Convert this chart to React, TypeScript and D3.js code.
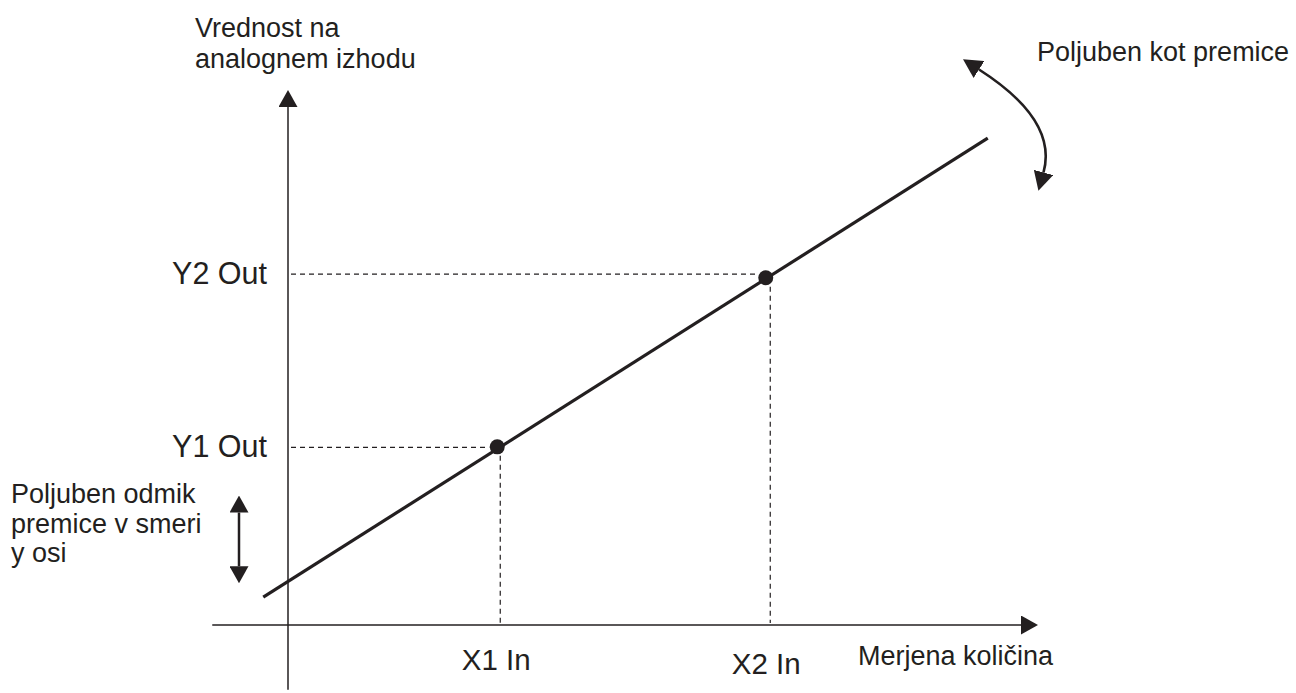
import React, { useEffect, useRef } from 'react';
import * as d3 from 'd3';

// axis extents (data units, origin at the axes crossing)
const xExtent = [-10.1, 100];
const yExtent = [-12.1, 100];

// transfer line, end points
const lineData = [
  { x: -3.3, y: 5.2 },
  { x: 93.3, y: 91.0 },
];

// the two calibration points
const points = [
  { x: 27.9, y: 33.3 },
  { x: 63.7, y: 64.9 },
];

// dashed guides: input value, output value
const inputs = [28.3, 64.3];
const outputs = [33.2, 65.6];
const inputLabels = ['X1 In', 'X2 In'];
const outputLabels = ['Y1 Out', 'Y2 Out'];

// offset arrow (y values)
const offsetArrow = [24.2, 7.8];

const INK = '#231f20';
const FONT = '"Liberation Sans", Arial, Helvetica, sans-serif';

export default function App() {
  const svgRef = useRef<SVGSVGElement>(null);

  useEffect(() => {
    if (!svgRef.current) return;
    d3.select(svgRef.current).selectAll('*').remove();

    const width = 1296;
    const height = 693;

    const svg = d3.select(svgRef.current)
      .attr('width', width)
      .attr('height', height);

    const x = d3.scaleLinear().domain([0, 100]).range([288, 1038]);
    const y = d3.scaleLinear().domain([0, 100]).range([625, 90]);

    // arrow head
    const defs = svg.append('defs');
    defs.append('marker')
      .attr('id', 'head')
      .attr('viewBox', '0 0 17 19')
      .attr('refX', 0)
      .attr('refY', 9.5)
      .attr('markerWidth', 17)
      .attr('markerHeight', 19)
      .attr('markerUnits', 'userSpaceOnUse')
      .attr('orient', 'auto-start-reverse')
      .append('path')
      .attr('d', 'M0,0 L17,9.5 L0,19 Z')
      .attr('fill', INK);

    defs.append('marker')
      .attr('id', 'head-big')
      .attr('viewBox', '0 0 19 20')
      .attr('refX', 0)
      .attr('refY', 10)
      .attr('markerWidth', 19)
      .attr('markerHeight', 20)
      .attr('markerUnits', 'userSpaceOnUse')
      .attr('orient', 'auto-start-reverse')
      .append('path')
      .attr('d', 'M0,0 L19,10 L0,20 Z')
      .attr('fill', INK);

    // axes
    svg.append('line')
      .attr('x1', x(0)).attr('x2', x(0))
      .attr('y1', y(yExtent[0])).attr('y2', y(yExtent[1]) + 17)
      .attr('stroke', INK).attr('stroke-width', 1.5)
      .attr('marker-end', 'url(#head)');

    svg.append('line')
      .attr('x1', x(xExtent[0])).attr('x2', x(xExtent[1]) - 17)
      .attr('y1', y(0)).attr('y2', y(0))
      .attr('stroke', INK).attr('stroke-width', 1.6)
      .attr('marker-end', 'url(#head)');

    // dashed guides
    const dash = svg.append('g')
      .attr('stroke', INK)
      .attr('stroke-width', 1.2)
      .attr('stroke-dasharray', '5,4')
      .attr('fill', 'none');

    outputs.forEach((v, i) => {
      dash.append('line')
        .attr('x1', x(0) + 3).attr('x2', x(points[i].x) - 8)
        .attr('y1', y(v)).attr('y2', y(v));
    });
    inputs.forEach((v, i) => {
      dash.append('line')
        .attr('x1', x(v)).attr('x2', x(v))
        .attr('y1', y(points[i].y) + 9).attr('y2', y(0) - 2);
    });

    // transfer line
    const line = d3.line<{ x: number; y: number }>()
      .x(d => x(d.x))
      .y(d => y(d.y));

    svg.append('path')
      .datum(lineData)
      .attr('d', line)
      .attr('fill', 'none')
      .attr('stroke', INK)
      .attr('stroke-width', 3.2);

    svg.selectAll('circle.pt')
      .data(points)
      .enter()
      .append('circle')
      .attr('class', 'pt')
      .attr('cx', d => x(d.x))
      .attr('cy', d => y(d.y))
      .attr('r', 7.5)
      .attr('fill', INK);

    // offset double arrow
    svg.append('line')
      .attr('x1', 239).attr('x2', 239)
      .attr('y1', y(offsetArrow[0]) + 17).attr('y2', y(offsetArrow[1]) - 17)
      .attr('stroke', INK).attr('stroke-width', 2.5)
      .attr('marker-start', 'url(#head)')
      .attr('marker-end', 'url(#head)');

    // angle arrow
    const p = d3.path();
    p.moveTo(979, 69.5);
    p.quadraticCurveTo(1058, 120, 1043.5, 172.5);
    svg.append('path')
      .attr('d', p.toString())
      .attr('fill', 'none')
      .attr('stroke', INK)
      .attr('stroke-width', 2.6)
      .attr('marker-start', 'url(#head-big)')
      .attr('marker-end', 'url(#head-big)');

    // texts
    const text = (tx: number, ty: number, s: string, size = 27, anchor = 'start') =>
      svg.append('text')
        .attr('x', tx)
        .attr('y', ty)
        .attr('font-family', FONT)
        .attr('font-size', size)
        .attr('fill', INK)
        .attr('text-anchor', anchor)
        .text(s);

    text(195, 37, 'Vrednost na');
    text(195, 68, 'analognem izhodu');
    text(1037, 61, 'Poljuben kot premice');
    text(858, 665, 'Merjena količina');
    text(11, 503, 'Poljuben odmik');
    text(11, 533, 'premice v smeri');
    text(11, 562, 'y osi');

    outputs.forEach((v, i) => {
      text(x(0) - 21, y(v) + 10, outputLabels[i], 30.5, 'end');
    });
    inputs.forEach((v, i) => {
      text(x(v) - 4, 670 + i * 4, inputLabels[i], 29.5, 'middle');
    });
  }, []);

  return (
    <div style={{ position: 'absolute', left: 0, top: 0 }}>
      <svg ref={svgRef} style={{ display: 'block', background: '#fff' }}></svg>
    </div>
  );
}
